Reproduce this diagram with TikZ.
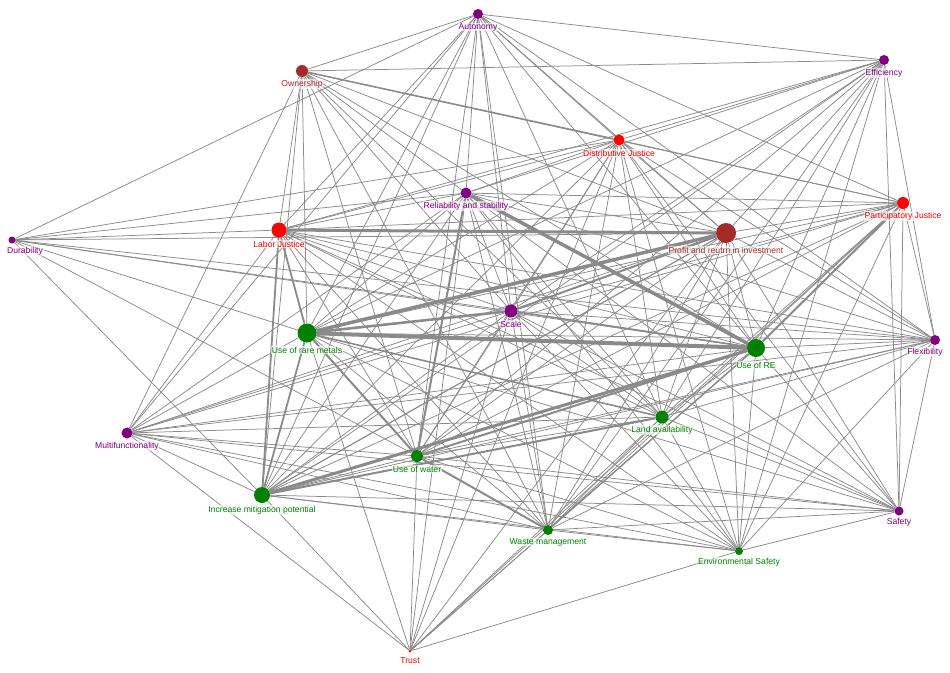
\documentclass[tikz,border=0pt]{standalone}
\usepackage{fontspec}
\setmainfont{Liberation Sans}
\usetikzlibrary{backgrounds}
\definecolor{cpur}{HTML}{800080}
\definecolor{cred}{HTML}{FF0000}
\definecolor{cbrn}{HTML}{A52A2A}
\definecolor{cgrn}{HTML}{008000}
\definecolor{edgec}{HTML}{8A8A8A}
\begin{document}
\begin{tikzpicture}[x=1pt,y=-1pt,
  vtx/.style={circle,inner sep=0pt,minimum size=#1},
  lab/.style={font=\fontsize{8.6}{9}\selectfont,inner sep=0.6pt,fill=white,fill opacity=0.6,text opacity=1},
  ed/.style={draw=edgec,line width=0.75pt}]
\useasboundingbox (0,0) rectangle (950,672);
% vertices
\node[vtx=10pt,fill=cpur] (A)  at (478,14)  {};
\node[vtx=12pt,fill=cbrn] (O)  at (302,71)  {};
\node[vtx=10pt,fill=cpur] (E)  at (884,60)  {};
\node[vtx=11pt,fill=cred] (D)  at (619,140) {};
\node[vtx=11pt,fill=cpur] (R)  at (466,193) {};
\node[vtx=12pt,fill=cred] (P)  at (903,203) {};
\node[vtx=15pt,fill=cred] (L)  at (279,230) {};
\node[vtx=20pt,fill=cbrn] (F)  at (726,233) {};
\node[vtx=7pt,fill=cpur]  (Du) at (12,240)  {};
\node[vtx=13pt,fill=cpur] (S)  at (511,311) {};
\node[vtx=19pt,fill=cgrn] (M)  at (307,333) {};
\node[vtx=18pt,fill=cgrn] (U)  at (756,348) {};
\node[vtx=10pt,fill=cpur] (Fl) at (935,340) {};
\node[vtx=13pt,fill=cgrn] (La) at (662,417) {};
\node[vtx=11pt,fill=cpur] (Mu) at (127,433) {};
\node[vtx=12pt,fill=cgrn] (W)  at (417,456) {};
\node[vtx=16pt,fill=cgrn] (I)  at (262,495) {};
\node[vtx=9pt,fill=cpur]  (Sa) at (899,511) {};
\node[vtx=10pt,fill=cgrn] (Wm) at (548,530) {};
\node[vtx=8pt,fill=cgrn]  (Es) at (739,551) {};
\node[vtx=3pt,fill=cred]  (T)  at (410,651) {};
% edges
\begin{scope}[on background layer]
\foreach \a/\b in {A/O,A/E,A/Du,A/L,A/M,A/I,A/Mu,A/R,A/S,A/W,A/Wm,A/D,A/F,A/U,A/La,A/P,A/Fl,
  O/E,O/P,O/F,O/U,O/La,O/S,O/L,O/M,O/I,O/W,O/Mu,O/R,O/Wm,
  E/D,E/R,E/L,E/F,E/S,E/M,E/U,E/La,E/W,E/I,E/Wm,E/Es,E/Sa,E/Fl,
  D/Du,D/L,D/R,D/P,D/F,D/S,D/M,D/U,D/La,D/W,D/I,D/Wm,D/Es,D/Fl,D/Sa,D/T,
  R/Du,R/L,R/P,R/F,R/S,R/M,R/La,R/I,R/Wm,R/Es,R/Fl,R/Sa,R/Mu,R/T,
  P/L,P/F,P/S,P/M,P/La,P/W,P/I,P/Wm,P/Es,P/Sa,P/Fl,P/T,P/Mu,
  L/Du,L/S,L/U,L/La,L/W,L/Wm,L/Es,L/Fl,L/Mu,L/Sa,
  F/Du,F/U,F/La,F/W,F/Wm,F/Es,F/Fl,F/Sa,F/Mu,F/T,
  Du/S,Du/U,Du/Fl,Du/M,Du/W,Du/I,
  S/La,S/W,S/I,S/Wm,S/Es,S/Fl,S/Sa,S/Mu,S/T,
  M/Wm,M/Es,M/Fl,M/Sa,M/Mu,M/T,
  U/La,U/Es,U/Fl,U/Sa,U/Mu,U/T,
  Fl/La,Fl/W,Fl/I,Fl/Wm,Fl/Es,Fl/Sa,Fl/Mu,
  La/W,La/Wm,La/Es,La/Sa,La/Mu,La/T,
  Mu/W,Mu/I,Mu/Wm,Mu/Es,Mu/Sa,Mu/T,
  W/I,W/Es,W/Sa,W/T,
  I/Wm,I/Es,I/Sa,I/T,
  Sa/Wm,Sa/Es,Wm/Es,Wm/T,Es/T}
  \draw[ed] (\a) -- (\b);
\foreach \a/\b/\w in {M/U/4,M/F/3.5,L/F/3,R/U/3.5,I/U/3,M/S/2.6,U/P/2,U/W/2,I/La/2,
  L/I/1.8,L/M/1.8,R/W/2,M/W/2,W/Wm/2,F/S/2,M/La/1.6,S/U/1.6,O/D/1.5,U/Wm/1.4,M/I/1.8,I/F/1.2}
  \draw[ed,line width=\w pt] (\a) -- (\b);
\end{scope}
% labels
\node[lab,text=cpur] (lA)  at (478,27)  {Autonomy};
\node[lab,text=cbrn] (lO)  at (302,84)  {Ownership};
\node[lab,text=cpur] (lE)  at (884,73)  {Efficiency};
\node[lab,text=cred] (lD)  at (619,153) {Distributive Justice};
\node[lab,text=cpur] (lR)  at (466,206) {Reliability and stability};
\node[lab,text=cred] (lP)  at (903,216) {Participatory Justice};
\node[lab,text=cred] (lL)  at (279,244) {Labor Justice};
\node[lab,text=cbrn] (lF)  at (726,250) {Profit and reutrn in investment};
\node[lab,text=cpur] (lDu) at (25,251)  {Durability};
\node[lab,text=cpur] (lS)  at (511,324) {Scale};
\node[lab,text=cgrn] (lM)  at (307,350) {Use of rare metals};
\node[lab,text=cgrn] (lU)  at (756,365) {Use of RE};
\node[lab,text=cpur] (lFl) at (925,352) {Flexibility};
\node[lab,text=cgrn] (lLa) at (662,430) {Land availability};
\node[lab,text=cpur] (lMu) at (127,446) {Multifunctionality};
\node[lab,text=cgrn] (lW)  at (417,469) {Use of water};
\node[lab,text=cgrn] (lI)  at (262,510) {Increase mitigation potential};
\node[lab,text=cpur] (lSa) at (899,522) {Safety};
\node[lab,text=cgrn] (lWm) at (548,542) {Waste management};
\node[lab,text=cgrn] (lEs) at (739,562) {Environmental Safety};
\node[lab,text=cred] (lT)  at (410,661) {Trust};
\end{tikzpicture}
\end{document}
